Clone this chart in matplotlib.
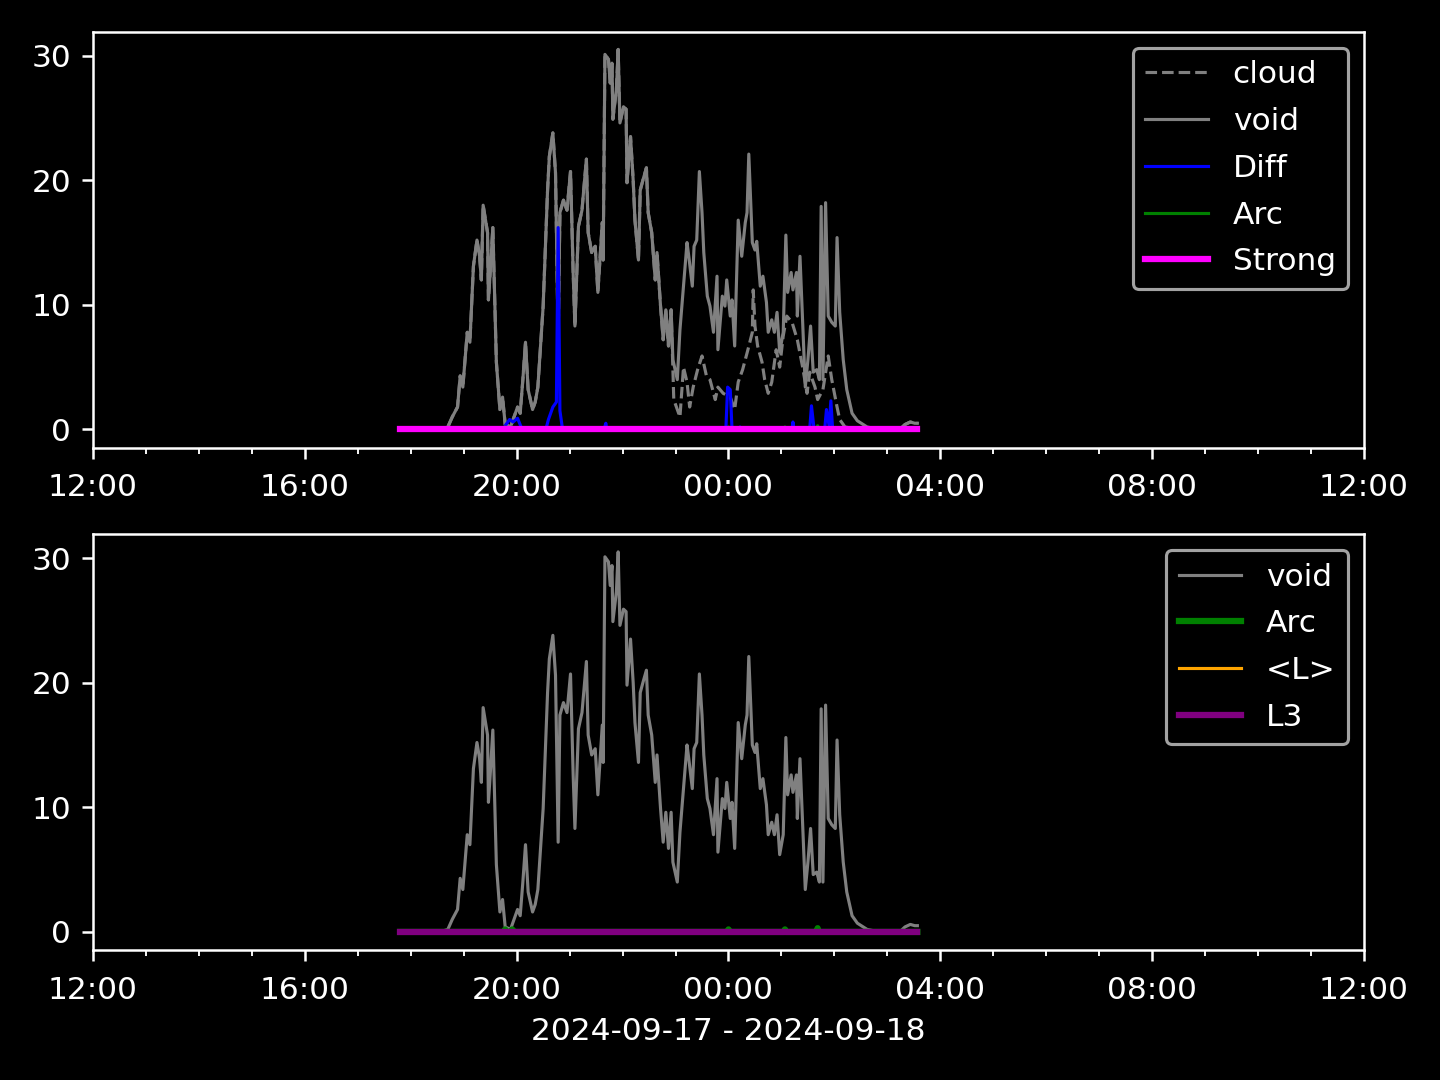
import numpy as np
import matplotlib
matplotlib.use('Agg')
import matplotlib.pyplot as plt
import matplotlib.dates as mdates
import pandas as pd

#data, times 2024-09-17 evening -> 2024-09-18 morning
void_t = ['17:48', '18:33', '18:42', '18:47', '18:53', '18:56', '18:59', '19:04', '19:07', '19:11',
          '19:15', '19:18', '19:20', '19:22', '19:27', '19:28', '19:30', '19:33', '19:37', '19:41',
          '19:44', '19:47', '19:53', '20:01', '20:04', '20:07', '20:10', '20:13', '20:18', '20:21',
          '20:24', '20:30', '20:35', '20:37', '20:41', '20:44', '20:47', '20:49', '20:53', '20:57',
          '21:01', '21:04', '21:06', '21:10', '21:14', '21:19', '21:21', '21:25', '21:29', '21:32',
          '21:37', '21:38', '21:40', '21:44', '21:46', '21:48', '21:49', '21:53', '21:55', '21:57',
          '22:01', '22:04', '22:05', '22:09', '22:12', '22:14', '22:18', '22:20', '22:23', '22:27',
          '22:29', '22:33', '22:37', '22:39', '22:43', '22:46', '22:49', '22:52', '22:55', '22:57',
          '23:02', '23:05', '23:09', '23:13', '23:15', '23:19', '23:21', '23:24', '23:27', '23:30',
          '23:32', '23:36', '23:39', '23:43', '23:47', '23:48', '23:53', '23:56', '23:58', '00:02',
          '00:04', '00:07', '00:11', '00:15', '00:19', '00:21', '00:23', '00:27', '00:30', '00:32',
          '00:36', '00:39', '00:43', '00:45', '00:49', '00:52', '00:55', '00:58', '01:02', '01:05',
          '01:07', '01:11', '01:13', '01:17', '01:18', '01:21', '01:24', '01:27', '01:30', '01:33',
          '01:36', '01:40', '01:43', '01:45', '01:47', '01:50', '01:53', '01:57', '02:01', '02:03',
          '02:06', '02:10', '02:14', '02:20', '02:26', '02:37', '02:44', '03:14', '03:20', '03:26',
          '03:31', '03:34']
void_v = [0.0, 0.0, 0.2, 1.0, 1.8, 4.3, 3.4, 7.8, 7.0, 13.1,
          15.2, 13.9, 12.0, 18.0, 15.8, 10.4, 12.6, 16.2, 5.4, 1.6,
          2.6, 0.4, 0.2, 1.8, 1.3, 4.0, 7.0, 3.2, 1.6, 2.2,
          3.4, 9.9, 19.2, 21.9, 23.8, 20.6, 7.2, 17.4, 18.4, 17.6,
          20.7, 12.6, 8.3, 16.3, 17.6, 21.7, 15.8, 14.2, 14.7, 11.0,
          16.6, 13.6, 30.1, 29.7, 27.8, 29.4, 24.9, 27.3, 30.5, 24.6,
          25.9, 25.7, 19.8, 23.5, 20.0, 16.8, 13.6, 19.2, 20.0, 21.0,
          17.4, 15.8, 12.0, 14.2, 9.9, 7.2, 9.6, 6.7, 9.6, 5.6,
          4.0, 8.0, 11.5, 15.0, 13.9, 11.5, 14.7, 15.2, 20.7, 17.4,
          14.2, 10.7, 9.9, 7.8, 12.3, 6.4, 10.7, 9.9, 12.0, 9.1,
          10.4, 6.7, 16.8, 13.9, 16.6, 17.4, 22.1, 15.0, 14.4, 15.1,
          11.5, 12.3, 10.2, 7.8, 8.8, 7.8, 9.4, 6.2, 7.8, 15.6,
          11.0, 12.6, 11.2, 12.6, 9.1, 13.9, 8.6, 3.4, 5.6, 8.3,
          4.6, 4.8, 4.0, 17.9, 4.0, 18.2, 9.1, 8.6, 8.3, 15.4,
          9.4, 5.6, 3.2, 1.3, 0.7, 0.2, 0.1, 0.0, 0.4, 0.6,
          0.5, 0.5]

#cloud runs on top of void until ~22:55, then separates
cloud_split = 79
cloud_tail_t = ['22:58', '23:05', '23:09', '23:13', '23:16', '23:20', '23:25', '23:30', '23:35', '23:39',
                '23:45', '23:48', '23:54', '00:02', '00:07', '00:11', '00:16', '00:22', '00:27', '00:28',
                '00:30', '00:33', '00:38', '00:41', '00:45', '00:49', '00:54', '00:58', '01:02', '01:06',
                '01:12', '01:18', '01:24', '01:29', '01:32', '01:38', '01:41', '01:47', '01:53', '01:57',
                '02:03', '02:06', '02:12', '02:20', '02:44', '03:14', '03:20', '03:26', '03:31', '03:34']
cloud_tail_v = [2.4, 1.0, 5.0, 3.8, 1.8, 3.4, 4.8, 5.9, 4.3, 4.0,
                2.4, 3.4, 2.9, 2.6, 1.6, 3.8, 4.8, 6.4, 7.8, 11.2,
                8.3, 6.7, 5.4, 4.0, 2.9, 3.8, 6.4, 5.0, 7.5, 9.1,
                8.6, 7.2, 5.0, 2.9, 4.6, 3.4, 2.4, 3.2, 5.9, 4.0,
                1.8, 0.8, 0.2, 0.1, 0.0, 0.0, 0.4, 0.6, 0.5, 0.5]

diff_t = ['17:48', '19:46', '19:47', '19:52', '19:56', '20:01', '20:05', '20:11', '20:33', '20:36',
          '20:41', '20:45', '20:47', '20:49', '20:52', '21:39', '21:41', '21:42', '23:57', '23:59',
          '00:02', '00:04', '00:12', '00:13', '00:15', '01:12', '01:13', '01:14', '01:32', '01:34',
          '01:37', '01:49', '01:51', '01:54', '01:56', '01:58', '03:34']
diff_v = [0.0, 0.0, 0.3, 0.8, 0.6, 0.9, 0.2, 0.0, 0.0, 0.8,
          1.8, 2.2, 16.2, 1.5, 0.0, 0.0, 0.5, 0.0, 0.0, 3.4,
          3.2, 0.0, 0.0, 0.2, 0.0, 0.0, 0.6, 0.0, 0.0, 1.9,
          0.0, 0.0, 1.6, 0.3, 2.3, 0.0, 0.0]

arc_t = ['17:48', '19:46', '19:47', '19:49', '19:54', '19:55', '19:57', '23:59', '00:00', '00:01',
         '01:03', '01:04', '01:05', '01:40', '01:41', '01:42', '03:34']
arc_v = [0.0, 0.0, 0.2, 0.0, 0.0, 0.2, 0.0, 0.0, 0.2, 0.0,
         0.0, 0.2, 0.0, 0.0, 0.3, 0.0, 0.0]

flat_t = ['17:48', '03:34']
strong_v = [0.0, 0.0]
lmean_v = [0.0, 0.0]
l3_v = [0.0, 0.0]


def to_dt(times):
    out = []
    for s in times:
        h = int(s[:2])
        day = '2024-09-17' if h >= 12 else '2024-09-18'
        out.append(pd.Timestamp(day + ' ' + s))
    return out


void_x = to_dt(void_t)
cloud_x = void_x[:cloud_split] + to_dt(cloud_tail_t)
cloud_y = void_v[:cloud_split] + cloud_tail_v
diff_x = to_dt(diff_t)
arc_x = to_dt(arc_t)
flat_x = to_dt(flat_t)

plt.style.use('dark_background')
fig, (ax1, ax2) = plt.subplots(2, 1, figsize=(6.4, 4.8), dpi=225)

ax1.plot(cloud_x, cloud_y, '--', color='gray', lw=1, label='cloud')
ax1.plot(void_x, void_v, color='gray', lw=1, label='void')
ax1.plot(diff_x, diff_v, color='blue', lw=1, label='Diff')
ax1.plot(arc_x, arc_v, color='green', lw=1, label='Arc')
ax1.plot(flat_x, strong_v, color='magenta', lw=2, label='Strong')
ax1.legend(loc='upper right', labelspacing=0.57)

ax2.plot(void_x, void_v, color='gray', lw=1, label='void')
ax2.plot(arc_x, arc_v, color='green', lw=2, label='Arc')
ax2.plot(flat_x, lmean_v, color='orange', lw=1, label='<L>')
ax2.plot(flat_x, l3_v, color='purple', lw=2, label='L3')
ax2.legend(loc='upper right', labelspacing=0.57)

for ax in (ax1, ax2):
    ax.set_xlim(pd.Timestamp('2024-09-17 12:00'), pd.Timestamp('2024-09-18 12:00'))
    ax.set_ylim(-1.45, 31.9)
    ax.set_yticks([0, 10, 20, 30])
    ax.xaxis.set_major_locator(mdates.HourLocator(byhour=[0, 4, 8, 12, 16, 20]))
    ax.xaxis.set_minor_locator(mdates.HourLocator())
    ax.xaxis.set_major_formatter(mdates.DateFormatter('%H:%M'))
    ax.tick_params(axis='x', which='major', pad=4.8)

ax2.set_xlabel('2024-09-17 - 2024-09-18')
plt.subplots_adjust(left=0.0646, right=0.9472, top=0.9704, bottom=0.1204, hspace=0.209)
plt.savefig('out.png')
